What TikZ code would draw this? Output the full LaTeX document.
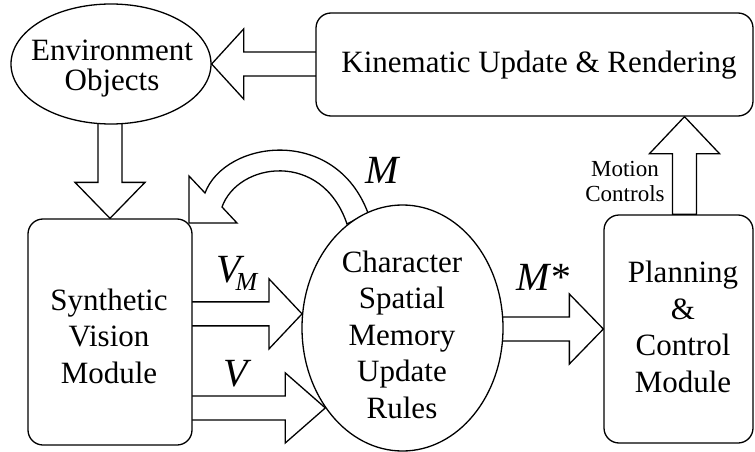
\documentclass[tikz,border=0pt]{standalone}
\usepackage{fontspec}
\setmainfont{Liberation Serif}
\usetikzlibrary{shapes.geometric,calc,backgrounds}

% hollow block arrow: #1 start, #2 tip, #3 head length
\newcommand{\blockarrow}[3]{%
  \coordinate (ba-c) at ($(#2)!#3!(#1)$);
  \draw[blockstyle] ($(#1)!12pt!90:(#2)$) -- ($(ba-c)!12pt!-90:(#1)$)
    -- ($(ba-c)!35pt!-90:(#1)$) -- (#2) -- ($(ba-c)!35pt!90:(#1)$)
    -- ($(ba-c)!12pt!90:(#1)$) -- ($(#1)!12pt!-90:(#2)$) -- cycle;
}

\tikzset{
  shapeline/.style={draw, line width=1.3pt, fill=white, inner sep=0pt},
  roundbox/.style={shapeline, rectangle, rounded corners=15pt},
  oval/.style={shapeline, ellipse},
  bodytext/.style={font=\fontsize{31}{36.5}\selectfont, align=center, inner sep=0pt},
  symlabel/.style={font=\fontsize{40}{40}\selectfont\itshape, inner sep=0pt},
  smalltext/.style={font=\fontsize{23}{25}\selectfont, align=center, inner sep=0pt},
  blockstyle/.style={draw, line width=1.3pt, fill=white, line join=miter},
}

\begin{document}
\begin{tikzpicture}[x=1pt, y=-1pt]
\useasboundingbox (0,0) rectangle (755,452);

% blocks
\node[roundbox, minimum width=437pt, minimum height=103pt] (kin) at (534.5,64.5) {};
\node[oval, minimum width=200pt, minimum height=120pt] (env) at (111,64) {};
\node[roundbox, minimum width=164pt, minimum height=226pt] (svm) at (110,332) {};
\node[oval, minimum width=201pt, minimum height=246pt] (csm) at (402.5,328) {};
\node[roundbox, minimum width=149pt, minimum height=228pt] (pcm) at (678.5,329) {};

% block texts
\node[bodytext, anchor=base] (kintext) at (539,73) {Kinematic Update \& Rendering};
\node[bodytext, font=\fontsize{31}{30}\selectfont] (envtext) at (112,69) {Environment\\Objects};
\node[bodytext] (svmtext) at (109,336) {Synthetic\\Vision\\Module};
\node[bodytext] (csmtext) at (402,334.5) {Character\\Spatial\\Memory\\Update\\Rules};
\node[bodytext] (pcmtext) at (683,327) {Planning\\\&\\Control\\Module};
\node[smalltext] (mctext) at (625,181.5) {Motion\\Controls};

% flow labels
\node[symlabel, anchor=base] (mlabel) at (382,183) {M};
\node[symlabel, anchor=base west] (vmlabel) at (216,282) {V\kern-5pt\raisebox{-8pt}{\fontsize{26}{26}\selectfont M}};
\node[symlabel, anchor=base] (vlabel) at (236,386) {V};
\node[symlabel, anchor=base] (mstarlabel) at (543,290) {M*};

% connectors, kept behind the blocks
\begin{scope}[on background layer]
  \coordinate (kinout) at (kin.center |- env.east);
  \blockarrow{kinout}{env.east}{32pt}

  \coordinate (envout) at (env.center -| svm.north);
  \blockarrow{envout}{svm.north}{36pt}

  \coordinate (vmtip) at (csm.172.6);
  \coordinate (vmstart) at (svm.center |- vmtip);
  \blockarrow{vmstart}{vmtip}{33pt}

  \coordinate (vtip) at (csm.226);
  \coordinate (vstart) at (svm.center |- vtip);
  \blockarrow{vstart}{vtip}{40pt}

  \coordinate (mout) at (csm.center |- pcm.west);
  \blockarrow{mout}{pcm.west}{34pt}

  \coordinate (mcstart) at ($(pcm.north)+(6,0)$);
  \coordinate (mctip) at (mcstart |- kin.south);
  \blockarrow{mcstart}{mctip}{37pt}

  % curved feedback arrow from the memory rules back to the vision module
  \draw[blockstyle] (205,193) .. controls (225,140) and (335,125) .. (368,213)
    -- (347,224) .. controls (322,150) and (238,162) .. (222,207)
    -- (237,223) -- (189,223) -- (189,176) -- cycle;
\end{scope}
\end{tikzpicture}
\end{document}
